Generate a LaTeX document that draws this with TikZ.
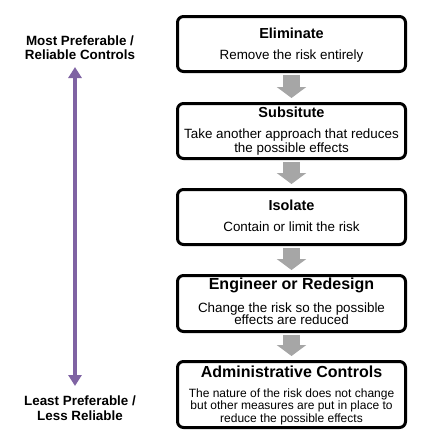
\documentclass[tikz,border=0pt]{standalone}
\usepackage{fontspec}
\setmainfont{Liberation Sans}
\usetikzlibrary{arrows.meta}
\definecolor{arrgray}{HTML}{A6A6A6}
\definecolor{purp}{HTML}{7F63A3}
\tikzset{
  box/.style={draw=black, line width=3pt, rounded corners=6pt, minimum width=228pt, inner sep=0pt, fill=white},
  txt/.style={inner sep=0pt, anchor=base},
  ttl/.style={txt, font=\bfseries\fontsize{14.5pt}{16pt}\selectfont},
  bigttl/.style={txt, font=\bfseries\fontsize{16pt}{18pt}\selectfont},
  body/.style={txt, font=\fontsize{13.4pt}{15pt}\selectfont},
  smallbody/.style={txt, font=\fontsize{12pt}{14pt}\selectfont},
  side/.style={txt, font=\bfseries\fontsize{13.4pt}{15pt}\selectfont},
  garrow/.style={draw=arrgray, line width=17pt, shorten <=2pt, shorten >=4pt, -{Triangle[width=29pt,length=11pt]}},
  parrow/.style={draw=purp, line width=4pt, {Triangle[width=13pt,length=11pt]}-{Triangle[width=13pt,length=11pt]}}
}
\begin{document}
\begin{tikzpicture}[x=1pt,y=-1pt]
\useasboundingbox (0,0) rectangle (435,445);
% boxes
\node[box, minimum height=55pt] (b1) at (291.5,44) {};
\node[box, minimum height=55pt] (b2) at (291.5,131) {};
\node[box, minimum height=55pt] (b3) at (291.5,217) {};
\node[box, minimum height=56pt] (b4) at (291.5,303.5) {};
\node[box, minimum height=66pt] (b5) at (291.5,394.5) {};
% gray arrows
\draw[garrow] (b1) -- (b2);
\draw[garrow] (b2) -- (b3);
\draw[garrow] (b3) -- (b4);
\draw[garrow] (b4) -- (b5);
% box texts
\node[ttl] (t1) at (291.5,38) {Eliminate};
\node[body] (d1) at (291.5,59) {Remove the risk entirely};
\node[ttl] (t2) at (291.5,117) {Subsitute};
\node[body] (d2a) at (291.5,138) {Take another approach that reduces};
\node[body] (d2b) at (291.5,152) {the possible effects};
\node[ttl] (t3) at (291.5,210) {Isolate};
\node[body] (d3) at (291.5,231) {Contain or limit the risk};
\node[bigttl] (t4) at (291.5,289) {Engineer or Redesign};
\node[body] (d4a) at (291.5,312) {Change the risk so the possible};
\node[body] (d4b) at (291.5,324.5) {effects are reduced};
\node[bigttl] (t5) at (291.5,377) {Administrative Controls};
\node[smallbody] (d5a) at (291.5,397) {The nature of the risk does not change};
\node[smallbody] (d5b) at (291.5,409.5) {but other measures are put in place to};
\node[smallbody] (d5c) at (291.5,422) {reduce the possible effects};
% side labels
\node[side] (s1) at (80,45) {Most Preferable /};
\node[side] (s2) at (80,59) {Reliable Controls};
\node[side] (s3) at (80,405) {Least Preferable /};
\node[side] (s4) at (80,420) {Less Reliable};
% purple arrow
\coordinate (pt) at (75,67);
\coordinate (pb) at (75,386);
\draw[parrow] (pt) -- (pb);
\end{tikzpicture}
\end{document}
